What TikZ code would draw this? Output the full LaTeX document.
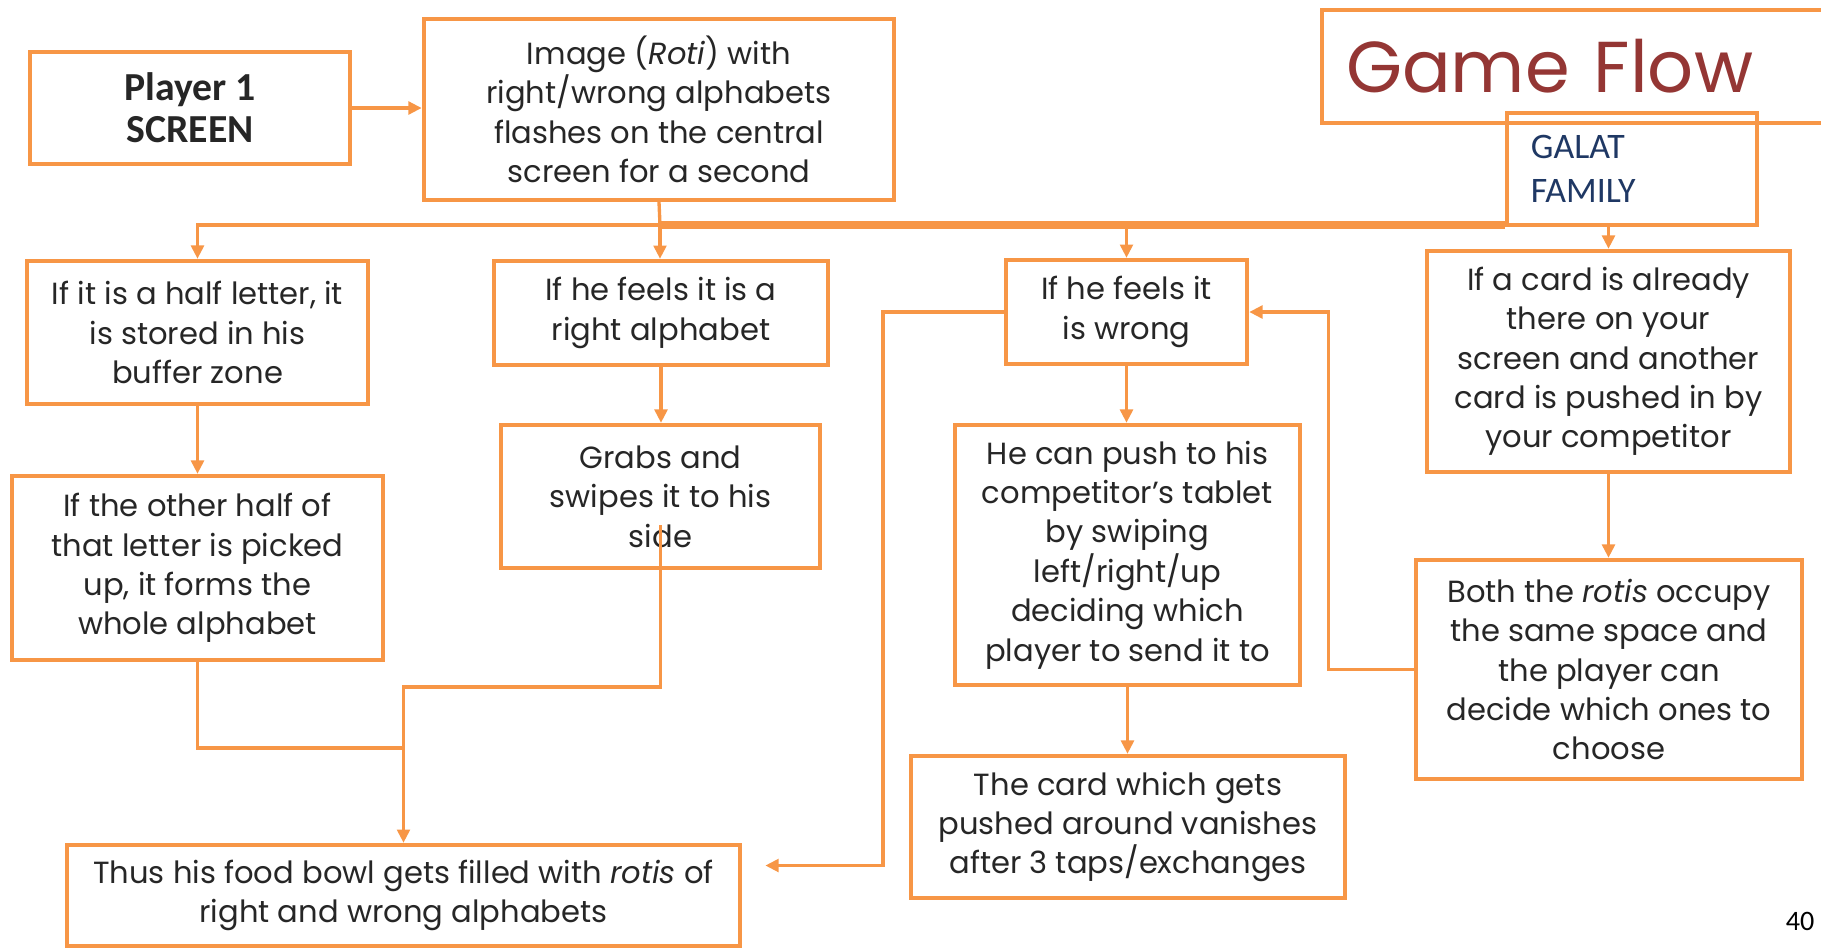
\documentclass[tikz,border=0pt]{standalone}
\usepackage{fontspec}
\setmainfont{Poppins}
\newfontfamily\galatfont{Carlito}
\usetikzlibrary{arrows.meta}

\definecolor{floworange}{HTML}{F79646}
\definecolor{flowred}{HTML}{943634}
\definecolor{flownavy}{HTML}{1F3864}
\definecolor{flowtext}{HTML}{262626}

\tikzset{
	flowbox/.style={draw=floworange, line width=1.2pt, align=center, inner sep=0pt, text=flowtext, font=\fontsize{8.7}{11.2}\selectfont},
	flowline/.style={draw=floworange, line width=0.95pt},
	flowarrow/.style={flowline, -{Triangle[length=3.8pt,width=3.6pt]}},
	busline/.style={draw=floworange, line width=2pt},
}

\begin{document}
\begin{tikzpicture}[x=0.01cm, y=-0.01cm]
	\clip (0,0) rectangle (1821,948);

	\node[flowbox, minimum width=3.20cm, minimum height=1.12cm, font=\galatfont\bfseries\fontsize{11.3}{12}\selectfont] (player) at (190,108) {Player 1\\SCREEN};
	\node[flowbox, minimum width=4.70cm, minimum height=1.81cm] (img) at (659,109.5) {Image (\emph{Roti}) with\\right/wrong alphabets\\flashes on the central\\screen for a second};
	\node[flowbox, anchor=west, minimum height=1.13cm, text width=5cm, align=left, inner xsep=0.24cm, text=flowred, font=\fontsize{20.5}{24}\selectfont] (title) at (1320,66.5) {Game Flow};
	\node[flowbox, minimum height=1.12cm, text width=2.02cm, align=left, inner xsep=0.24cm, text=flownavy, font=\galatfont\fontsize{10.2}{12.5}\selectfont] (galat) at (1632,169) {GALAT\\FAMILY};

	\node[flowbox, minimum width=3.41cm, minimum height=1.43cm] (half) at (197.5,332.5) {If it is a half letter, it\\is stored in his\\buffer zone};
	\node[flowbox, minimum width=3.34cm, minimum height=1.04cm] (right) at (661,313) {If he feels it is a\\right alphabet};
	\node[flowbox, minimum width=2.41cm, minimum height=1.04cm] (wrong) at (1126.5,312) {If he feels it\\is wrong};
	\node[flowbox, minimum width=3.63cm, minimum height=2.21cm] (card) at (1608.5,361.5) {If a card is already\\there on your\\screen and another\\card is pushed in by\\your competitor};

	\node[flowbox, minimum width=3.71cm, minimum height=1.84cm] (other) at (197.5,568) {If the other half of\\that letter is picked\\up, it forms the\\whole alphabet};
	\node[flowbox, minimum width=3.19cm, minimum height=1.43cm] (grabs) at (660.5,496.5) {Grabs and\\swipes it to his\\side};
	\node[flowbox, minimum width=3.45cm, minimum height=2.60cm] (push) at (1127.5,555) {He can push to his\\competitor’s tablet\\by swiping\\left/right/up\\deciding which\\player to send it to};
	\node[flowbox, minimum width=3.86cm, minimum height=2.19cm] (both) at (1609,669.5) {Both the \emph{rotis} occupy\\the same space and\\the player can\\decide which ones to\\choose};

	\node[flowbox, minimum width=4.34cm, minimum height=1.42cm] (vanish) at (1128,827) {The card which gets\\pushed around vanishes\\after 3 taps/exchanges};
	\node[flowbox, minimum width=6.73cm, minimum height=1.01cm] (bowl) at (403.5,895.5) {Thus his food bowl gets filled with \emph{rotis} of\\right and wrong alphabets};

	\node[text=black, font=\galatfont\fontsize{8}{9}\selectfont] (page) at (1800,921) {40};

	\coordinate (bus) at (660,225);
	\draw[flowarrow] (player.east) -- (player.east -| img.west);
	\draw[flowline] (img.south) -- (bus);
	\draw[flowarrow] (bus) -| (half.north);
	\draw[flowarrow] (bus) -- (bus |- right.north);
	\draw[busline] (galat.west |- bus) -- (bus);
	\draw[flowarrow] (wrong.north |- bus) -- (wrong.north);
	\draw[flowarrow] (galat.south -| card.north) -- (card.north);

	\draw[flowarrow] (half.south) -- (other.north);
	\draw[flowarrow] (right.south) -- (right.south |- grabs.north);
	\draw[flowarrow] (wrong.south) -- (wrong.south |- push.north);
	\draw[flowarrow] (push.south) -- (push.south |- vanish.north);
	\draw[flowarrow] (card.south) -- (card.south |- both.north);

	\draw[flowarrow] (both.west) -- ++(-85,0) |- (wrong.east);
	\draw[flowarrow] (wrong.west) -- ++(-121,0) |- ([shift={(23,-30)}]bowl.east);
	\draw[flowarrow] ([shift={(0,-45)}]grabs.south) -- ++(0,162) -| (bowl.north);
	\draw[flowline] (other.south) |- (bowl.north |- 0,748);
\end{tikzpicture}
\end{document}
